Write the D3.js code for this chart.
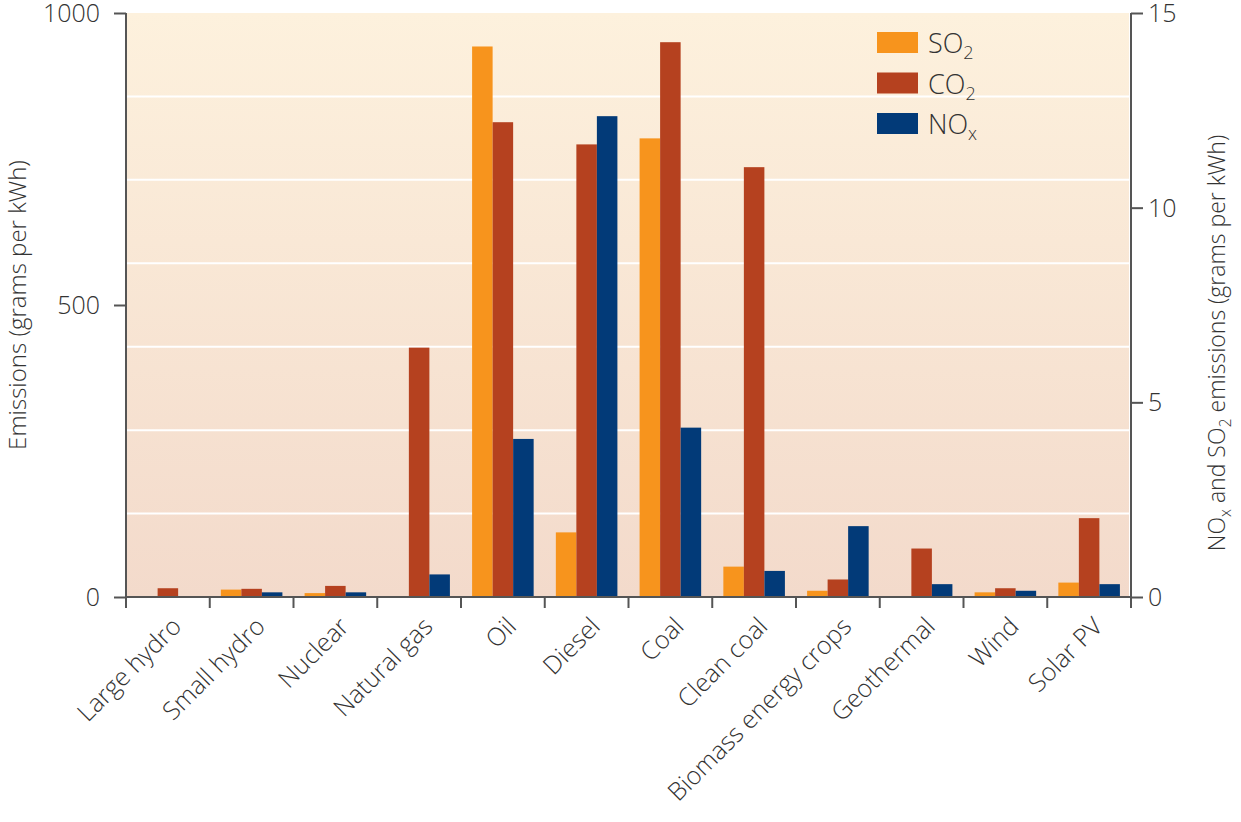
<!DOCTYPE html>
<html><head><meta charset="utf-8">
<script src="https://cdn.jsdelivr.net/npm/d3@7/dist/d3.min.js"></script>
<style>body{margin:0;background:#fff}svg{display:block}text{font-family:"Open Sans","Noto Sans",sans-serif;font-weight:300;fill:#333}</style>
</head><body><svg id="c" width="1241" height="822"></svg>
<script>
const categories = ["Large hydro","Small hydro","Nuclear","Natural gas","Oil","Diesel","Coal","Clean coal","Biomass energy crops","Geothermal","Wind","Solar PV"];
const so2 = [0, 0.19, 0.1, 0, 14.14, 1.66, 11.78, 0.78, 0.16, 0, 0.12, 0.37];   // right axis
const co2 = [15, 14, 19, 427, 813, 775, 950, 736, 30, 83, 15, 135];              // left axis
const nox = [0, 0.12, 0.12, 0.58, 4.06, 12.35, 4.35, 0.67, 1.82, 0.33, 0.16, 0.33]; // right axis
const leftTicks = [0, 500, 1000];
const rightTicks = [0, 5, 10, 15];
const series = [
  {key:"SO2", base:"SO", sub:"2", values:so2, axis:"right", color:"#F7941D"},
  {key:"CO2", base:"CO", sub:"2", values:co2, axis:"left", color:"#B5411F"},
  {key:"NOx", base:"NO", sub:"x", values:nox, axis:"right", color:"#023A78"}
];

const svg = d3.select("#c");
const L = 126, R = 1131, T = 13, B = 597;
const FONT = '"Open Sans","Noto Sans",sans-serif';

const defs = svg.append("defs");
const g = defs.append("linearGradient").attr("id","bg").attr("x1",0).attr("y1",0).attr("x2",0).attr("y2",1);
g.append("stop").attr("offset","0%").attr("stop-color","#FDF1DD");
g.append("stop").attr("offset","100%").attr("stop-color","#F3DACB");

const x0 = d3.scaleBand().domain(categories).range([L, R]);
const bw = x0.bandwidth();
const gw = bw * 0.735;
const x1 = d3.scaleBand().domain(series.map(s=>s.key)).range([0, gw]);
const yL = d3.scaleLinear().domain([0,1000]).range([B, T]);
const yR = d3.scaleLinear().domain([0,15]).range([B, T]);

svg.append("rect").attr("x",L+1).attr("y",T).attr("width",R-L-3).attr("height",B-T).attr("fill","url(#bg)");

// gridlines at sevenths
const grid = d3.range(1,7).map(i => i*1000/7);
svg.append("g").selectAll("line").data(grid).join("line")
  .attr("x1",L+1).attr("x2",R-2).attr("y1",d=>yL(d)).attr("y2",d=>yL(d))
  .attr("stroke","#fff").attr("stroke-width",2);

// bars
series.forEach(s => {
  const y = s.axis === "left" ? yL : yR;
  svg.append("g").selectAll("rect").data(categories).join("rect")
    .attr("x", (c)=> x0(c) + (bw-gw)/2 + x1(s.key))
    .attr("width", x1.bandwidth())
    .attr("y", (c,i)=> y(s.values[i]))
    .attr("height", (c,i)=> B - y(s.values[i]))
    .attr("fill", s.color);
});

// left axis
const axL = d3.axisLeft(yL).tickValues(leftTicks).tickFormat(d3.format("d")).tickSize(12).tickPadding(14);
const gl = svg.append("g").attr("transform",`translate(${L},0)`).call(axL);
gl.select(".domain").attr("stroke","#555").attr("stroke-width",2).attr("d",`M0,${T}V${B}`);
gl.selectAll(".tick line").attr("stroke","#555").attr("stroke-width",2);
gl.selectAll(".tick text").attr("font-size",25).attr("fill","#333").attr("font-family",FONT).attr("font-weight",300).attr("dy","0.34em");

// right axis
const axR = d3.axisRight(yR).tickValues(rightTicks).tickSize(12).tickPadding(5);
const gr = svg.append("g").attr("transform",`translate(${R},0)`).call(axR);
gr.select(".domain").attr("stroke","#555").attr("stroke-width",2).attr("d",`M0,${T}V${B}`);
gr.selectAll(".tick line").attr("stroke","#555").attr("stroke-width",2);
gr.selectAll(".tick text").attr("font-size",25).attr("fill","#333").attr("font-family",FONT).attr("font-weight",300).attr("dy","0.34em");

// bottom axis line + ticks at band boundaries
svg.append("line").attr("x1",L).attr("x2",R).attr("y1",B).attr("y2",B).attr("stroke","#555").attr("stroke-width",2);
const bounds = categories.map(c=>x0(c)).concat([R]);
svg.append("g").selectAll("line").data(bounds).join("line")
  .attr("x1",d=>d).attr("x2",d=>d).attr("y1",B).attr("y2",B+11)
  .attr("stroke","#555").attr("stroke-width",2);

// category labels
svg.append("g").selectAll("text").data(categories).join("text")
  .attr("transform", c => `translate(${x0(c)+bw/2+15},${B+31}) rotate(-45)`)
  .attr("text-anchor","end").attr("font-size",25).text(c=>c);

// axis titles
svg.append("text").attr("transform",`translate(26,305) rotate(-90)`).attr("text-anchor","middle")
  .attr("font-size",24).text("Emissions (grams per kWh)");
const rt = svg.append("text").attr("transform",`translate(1225,343) rotate(-90)`).attr("text-anchor","middle").attr("font-size",23);
rt.append("tspan").text("NO");
rt.append("tspan").attr("dy",6).attr("font-size",16).text("x");
rt.append("tspan").attr("dy",-6).text(" and SO");
rt.append("tspan").attr("dy",6).attr("font-size",16).text("2");
rt.append("tspan").attr("dy",-6).text(" emissions (grams per kWh)");

// legend
const lg = svg.append("g").attr("transform","translate(877,32)");
series.forEach((s,i) => {
  const row = lg.append("g").attr("transform",`translate(0,${i*40.5})`);
  row.append("rect").attr("width",41).attr("height",21).attr("fill",s.color);
  const t = row.append("text").attr("x",51).attr("y",21).attr("font-size",27);
  t.append("tspan").text(s.base);
  t.append("tspan").attr("dy",6).attr("font-size",18).text(s.sub);
});
</script></body></html>
